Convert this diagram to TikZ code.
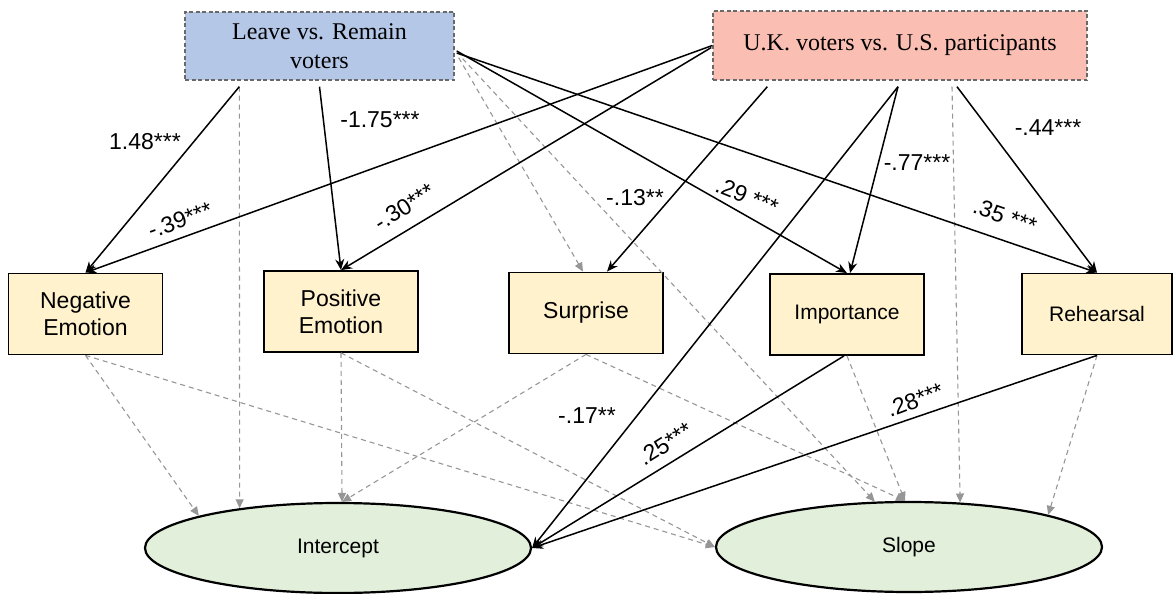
\documentclass[tikz,border=0pt]{standalone}
\usepackage{fontspec}
\setmainfont{Liberation Serif}
\setsansfont{Liberation Sans}
\usetikzlibrary{arrows.meta,shapes.geometric,calc}
\definecolor{leavefill}{RGB}{180,199,231}
\definecolor{ukfill}{RGB}{250,190,178}
\definecolor{medfill}{RGB}{255,242,204}
\definecolor{outfill}{RGB}{226,239,218}
\definecolor{pathgray}{RGB}{150,150,150}
\definecolor{framegray}{RGB}{105,105,105}

\begin{document}
\begin{tikzpicture}[x=1pt,y=-1pt,
  groupbox/.style={draw=framegray, dash pattern=on 4pt off 2.5pt, line width=1.4pt,
    inner sep=0pt, align=center, font=\fontsize{24}{29}\selectfont},
  medbox/.style={draw=black, fill=medfill, line width=1.8pt, minimum width=154pt,
    minimum height=81pt, inner sep=0pt, align=center,
    font=\sffamily\fontsize{23}{27}\selectfont},
  smalltext/.style={font=\sffamily\fontsize{21}{25}\selectfont},
  outcome/.style={ellipse, draw=black, fill=outfill, line width=2.2pt,
    minimum width=386pt, minimum height=90pt, inner sep=0pt,
    font=\sffamily\fontsize{21}{25}\selectfont},
  sig/.style={-{Stealth[length=11pt,width=9pt]}, line width=1.5pt, draw=black},
  nonsig/.style={-{Triangle[length=9pt,width=8pt]}, draw=pathgray, line width=1.1pt,
    dash pattern=on 5pt off 4pt},
  coef/.style={font=\sffamily\fontsize{23}{27}\selectfont, inner sep=0pt}
]
\useasboundingbox (0,0) rectangle (1173,594);

% predictors
\node[groupbox, fill=leavefill, minimum width=269pt, minimum height=68pt] (leave)
  at (319.5,46) {Leave vs. Remain\\voters};
\node[groupbox, fill=ukfill, minimum width=374pt, minimum height=69pt] (uk)
  at (900,45.5) {U.K. voters vs. U.S. participants};

% mediators
\node[medbox] (neg) at (85.5,314) {Negative\\Emotion};
\node[medbox] (pos) at (341,311.5) {Positive\\Emotion};
\node[medbox] (sur) at (586,313) {Surprise};
\node[medbox, smalltext] (imp) at (847,314.5) {Importance};
\node[medbox, smalltext, minimum width=150pt] (reh) at (1097,314) {Rehearsal};

% growth factors
\node[outcome] (icpt) at (338,548) {Intercept};
\node[outcome] (slope) at (909,547) {Slope};

% non-significant paths
\draw[nonsig] ($(leave.south west)+(55,6)$) -- (icpt.158);
\draw[nonsig] ($(leave.south east)+(4,-23)$) -- ($(sur.north)+(-3,0)$);
\draw[nonsig] ($(leave.south east)+(8,-22)$) -- (slope.127);
\draw[nonsig] ($(uk.south)+(52,6)$) -- (slope.41);
\draw[nonsig] (neg.south) -- (icpt.167);
\draw[nonsig] (neg.south) -- (slope.west);
\draw[nonsig] (pos.south) -- (icpt.85);
\draw[nonsig] (pos.south) -- (slope.west);
\draw[nonsig] (sur.south) -- (icpt.85);
\draw[nonsig] (sur.south) -- (slope.95);
\draw[nonsig] (imp.south) -- (slope.95);
\draw[nonsig] (reh.south) -- (slope.13);

% significant paths
\draw[sig] ($(leave.south west)+(55,6)$) -- (neg.north);
\draw[sig] ($(leave.south)+(0,6)$) -- (pos.north);
\draw[sig] ($(leave.east)+(2,5)$) -- (imp.north);
\draw[sig] ($(leave.east)+(2,7)$) -- (reh.north);
\draw[sig] (uk.west) -- (neg.north);
\draw[sig] ($(uk.west)+(-1,2)$) -- (pos.north);
\draw[sig] ($(uk.south west)+(55,6)$) -- ($(sur.north)+(21,0)$);
\draw[sig] ($(uk.south)+(-2,6)$) -- ($(imp.north)+(3,0)$);
\draw[sig] ($(uk.south)+(-2,6)$) -- (icpt.east);
\draw[sig] ($(uk.south)+(57,6)$) -- (reh.north);
\draw[sig] ($(imp.south)+(-3,0)$) -- (icpt.east);
\draw[sig] (reh.south) -- (icpt.east);

% coefficients
\node[coef] (c1) at (145,142) {1.48***};
\node[coef] (c2) at (380,120) {-1.75***};
\node[coef, rotate=20] (c3) at (180,220) {-.39***};
\node[coef, rotate=32] (c4) at (404,207) {-.30***};
\node[coef] (c5) at (635,198) {-.13**};
\node[coef, rotate=-22] (c6) at (747,196) {.29 ***};
\node[coef] (c7) at (917,163) {-.77***};
\node[coef] (c8) at (1048,128) {-.44***};
\node[coef, rotate=-19] (c9) at (1005,216) {.35 ***};
\node[coef] (c10) at (587,416) {-.17**};
\node[coef, rotate=32] (c11) at (665,444) {.25***};
\node[coef, rotate=21] (c12) at (915,400) {.28***};
\end{tikzpicture}
\end{document}
